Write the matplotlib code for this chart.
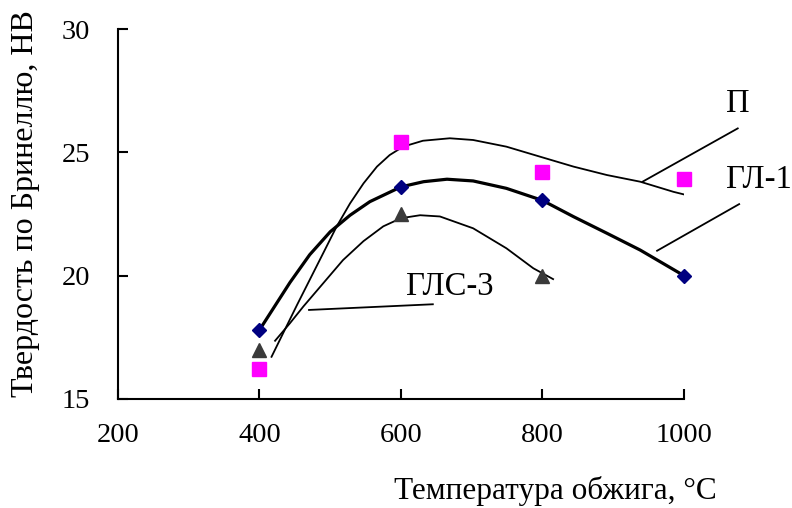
import matplotlib
matplotlib.use("Agg")
import matplotlib.pyplot as plt

plt.rcParams['font.family'] = ['Liberation Serif', 'DejaVu Serif']

# measured points
temps = [400, 600, 800, 1000]
temps_gls3 = [400, 600, 800]
hb_gl1 = [17.8, 23.6, 23.05, 20.0]
hb_p = [16.2, 25.4, 24.2, 23.9]
hb_gls3 = [17.0, 22.5, 20.0]

# trend curves
p_curve_x = [417, 453, 490, 509, 528, 547, 566, 584, 603, 631, 669, 702, 749, 797, 844, 891, 938, 985, 1013]
p_curve_y = [16.71, 18.81, 20.91, 21.99, 22.93, 23.74, 24.42, 24.89, 25.23, 25.47, 25.57, 25.50, 25.23,
             24.82, 24.42, 24.08, 23.81, 23.40, 23.20]
gl1_curve_x = [400, 443, 471, 500, 528, 556, 600, 632, 665, 702, 749, 800, 844, 891, 938, 1000]
gl1_curve_y = [17.8, 19.72, 20.85, 21.78, 22.45, 23.0, 23.6, 23.81, 23.91, 23.84, 23.54, 23.05,
               22.39, 21.72, 21.04, 20.0]
gls3_curve_x = [422, 443, 462, 490, 518, 547, 575, 600, 627, 655, 702, 749, 787, 815]
gls3_curve_y = [17.36, 18.07, 18.75, 19.69, 20.63, 21.4, 22.0, 22.33, 22.45, 22.4, 21.92, 21.11, 20.30, 19.86]

xticks = [200, 400, 600, 800, 1000]
yticks = [15, 20, 25, 30]

fig = plt.figure(figsize=(7.92, 5.08), dpi=100)
ax = fig.add_axes([0.149, 0.2146, 0.7146, 0.7283])

ax.plot(p_curve_x, p_curve_y, color='black', lw=1.3, solid_joinstyle='round')
ax.plot(gls3_curve_x, gls3_curve_y, color='black', lw=1.3, solid_joinstyle='round')
ax.plot(gl1_curve_x, gl1_curve_y, color='black', lw=2.3, solid_joinstyle='round')

ax.plot(temps, hb_p, 's', color='#ff00ff', ms=10, clip_on=False)
ax.plot(temps_gls3, hb_gls3, '^', color='#3a3a3a', ms=10, clip_on=False)
ax.plot(temps, hb_gl1, 'D', color='#000080', ms=7, clip_on=False)

# leader lines and series labels
ax.plot([1076, 941.5], [25.97, 23.81], color='black', lw=1.3, clip_on=False)
ax.plot([1078, 962], [22.9, 21.01], color='black', lw=1.3, clip_on=False)
ax.plot([470, 645], [18.61, 18.84], color='black', lw=1.3, clip_on=False)
ax.text(1076, 26.65, 'П', fontsize=23.5, ha='center', va='baseline')
ax.text(1060, 23.54, 'ГЛ-1', fontsize=23.5, ha='left', va='baseline', clip_on=False)
ax.text(607, 19.22, 'ГЛС-3', fontsize=23.5, ha='left', va='baseline')

ax.set_xlim(200, 1000)
ax.set_ylim(15, 30)
ax.set_xticks(xticks)
ax.set_yticks(yticks)
ax.spines['top'].set_visible(False)
ax.spines['right'].set_visible(False)
for s in ['left', 'bottom']:
    ax.spines[s].set_linewidth(1.5)
ax.tick_params(axis='both', direction='in', length=7, width=1.5, labelsize=20.5)
ax.tick_params(axis='y', pad=20)
ax.tick_params(axis='x', pad=17)

fig.text(0.7008, 0.034, 'Температура обжига, °C', fontsize=22.5, ha='center', va='center')
fig.text(0.0316, 0.600, 'Твердость по Бринеллю, НВ', fontsize=23, ha='center', va='center',
         rotation=90)

fig.savefig('out.png', dpi=100)
